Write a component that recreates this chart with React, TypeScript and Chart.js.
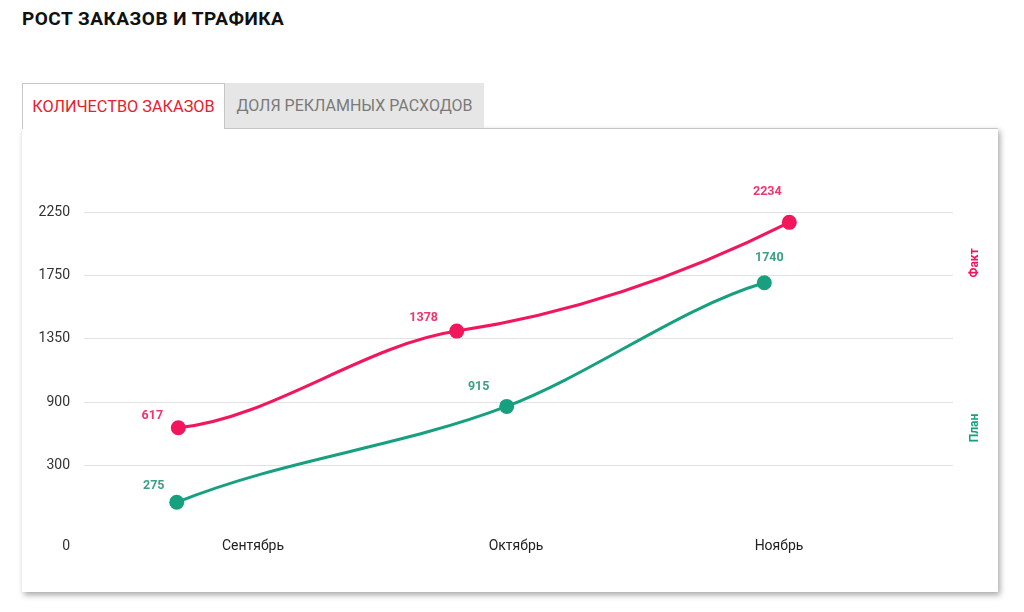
import React, { useEffect, useRef } from "react";
import { Chart, registerables } from "chart.js";

Chart.register(...registerables);

// ---- data ----
const months = ["Сентябрь", "Октябрь", "Ноябрь"];
const factValues = [617, 1378, 2234];
const planValues = [275, 915, 1740];
// horizontal position of each point, in month units (0 = Сентябрь)
const factMonthPos = [-0.284, 0.7745, 2.0392];
const planMonthPos = [-0.29, 0.9646, 1.9441];
// y axis tick labels and their slots on the (evenly gridded) visible axis
const yTickLabels = ["0", "300", "900", "1350", "1750", "2250"];
const yTickSlots = [0, 1.26, 2.26, 3.26, 4.26, 5.26];
const seriesNames = ["Факт", "План"];

// ---- style ----
const PINK = "#f2165d";
const GREEN = "#17a07f";
const PINK_LABEL = "#f0346c";
const GREEN_LABEL = "#3d9f85";
const FONT = "Roboto, 'Noto Sans', sans-serif";
const factLabelOffsets = [[-26, -12], [-33, -13], [-22, -30]];
const planLabelOffsets = [[-23, -16], [-28, -20], [5, -25]];
const sideLabelFractions = [0.262, 0.718];
// curve shape: tangent steepness at each point (screen dy/dx)
const factTangents = [-0.1, -0.15, -0.5];
const planTangents = [-0.4, -0.38, -0.3];

const tangentPlugin = {
  id: "curveTangents",
  beforeDatasetDraw(chart: any, args: any) {
    const ds: any = chart.data.datasets[args.index];
    const slopes = ds.tangentSlopes;
    if (!slopes) return;
    const meta = chart.getDatasetMeta(args.index);
    const line = meta.dataset;
    if (line && line.updateControlPoints) line.updateControlPoints(chart.chartArea, "x");
    const pts = meta.data;
    pts.forEach((p: any, i: number) => {
      const dPrev = i > 0 ? (p.x - pts[i - 1].x) / 3 : 0;
      const dNext = i < pts.length - 1 ? (pts[i + 1].x - p.x) / 3 : 0;
      p.cp1x = p.x - dPrev;
      p.cp1y = p.y - slopes[i] * dPrev;
      p.cp2x = p.x + dNext;
      p.cp2y = p.y + slopes[i] * dNext;
    });
  },
};

const valueLabelPlugin = {
  id: "valueLabels",
  afterDatasetsDraw(chart: any) {
    const ctx = chart.ctx;
    chart.data.datasets.forEach((ds: any, di: number) => {
      const meta = chart.getDatasetMeta(di);
      meta.data.forEach((el: any, i: number) => {
        const off = ds.labelOffsets[i];
        ctx.save();
        ctx.font = `bold 12.5px ${FONT}`;
        ctx.fillStyle = ds.labelColor;
        ctx.textAlign = "center";
        ctx.textBaseline = "middle";
        ctx.fillText(String(ds.data[i].y), el.x + off[0], el.y + off[1]);
        ctx.restore();
      });
    });
  },
};

const sideLabelPlugin = {
  id: "sideLabels",
  afterDraw(chart: any) {
    const { ctx, chartArea } = chart;
    const colors = [PINK, GREEN];
    seriesNames.forEach((name, i) => {
      const x = chartArea.right + 22;
      const y = chartArea.top + (chartArea.bottom - chartArea.top) * sideLabelFractions[i];
      ctx.save();
      ctx.translate(x, y);
      ctx.rotate(-Math.PI / 2);
      ctx.font = `bold 12px ${FONT}`;
      ctx.fillStyle = colors[i];
      ctx.textAlign = "center";
      ctx.textBaseline = "middle";
      ctx.fillText(name, 0, 0);
      ctx.restore();
    });
  },
};

function OrdersChart() {
  const ref = useRef<HTMLCanvasElement | null>(null);
  useEffect(() => {
    if (!ref.current) return;
    const chart = new Chart(ref.current, {
      type: "line",
      data: {
        datasets: [
          {
            label: seriesNames[0],
            data: factValues.map((v, i) => ({ x: factMonthPos[i], y: v })),
            borderColor: PINK,
            backgroundColor: PINK,
            pointBackgroundColor: PINK,
            pointBorderWidth: 0,
            pointRadius: 7.5,
            borderWidth: 3,
            tension: 0.4,
            yAxisID: "yF",
            clip: false,
            labelOffsets: factLabelOffsets,
            labelColor: PINK_LABEL,
            tangentSlopes: factTangents,
          } as any,
          {
            label: seriesNames[1],
            data: planValues.map((v, i) => ({ x: planMonthPos[i], y: v })),
            borderColor: GREEN,
            backgroundColor: GREEN,
            pointBackgroundColor: GREEN,
            pointBorderWidth: 0,
            pointRadius: 7.5,
            borderWidth: 3,
            tension: 0.4,
            yAxisID: "yP",
            clip: false,
            labelOffsets: planLabelOffsets,
            labelColor: GREEN_LABEL,
            tangentSlopes: planTangents,
          } as any,
        ],
      },
      options: {
        responsive: false,
        animation: false,
        layout: { padding: { top: 40, right: 45, bottom: 32, left: 0 } },
        plugins: { legend: { display: false }, tooltip: { enabled: false } },
        scales: {
          x: {
            type: "linear",
            min: -0.6426,
            max: 2.6616,
            afterBuildTicks: (scale: any) => {
              scale.ticks = months.map((_, i) => ({ value: i }));
            },
            afterFit: (scale: any) => {
              scale.height = 30;
            },
            ticks: {
              padding: 7.6,
              color: "#222",
              font: { family: FONT, size: 14 },
              callback: (value: any) => months[Math.round(Number(value))],
            },
            grid: { display: false, drawTicks: false },
            border: { display: false },
          },
          y: {
            type: "linear",
            position: "left",
            min: 0.252,
            max: 5.953,
            afterBuildTicks: (scale: any) => {
              scale.ticks = yTickSlots.map((v) => ({ value: v }));
            },
            afterFit: (scale: any) => {
              scale.width = 62;
            },
            ticks: {
              padding: 14,
              color: "#333",
              font: { family: FONT, size: 14 },
              callback: (_v: any, index: number) => yTickLabels[index],
            },
            grid: {
              drawTicks: false,
              color: (c: any) => (c.index === 0 ? "rgba(0,0,0,0)" : "#e2e2e2"),
            },
            border: { display: false },
          },
          yF: { type: "linear", display: false, min: -188, max: 2662 },
          yP: { type: "linear", display: false, min: 90, max: 2506 },
        },
      } as any,
      plugins: [tangentPlugin, valueLabelPlugin, sideLabelPlugin],
    });
    return () => chart.destroy();
  }, []);
  return <canvas ref={ref} width={976} height={464} style={{ display: "block", width: 976, height: 464 }} />;
}

export default function App() {
  return (
    <div style={{ position: "absolute", left: 0, top: 0, width: 1024, height: 612, background: "#fff", fontFamily: FONT, overflow: "hidden" }}>
      <div style={{ position: "absolute", left: 22, top: 9, fontSize: 19, letterSpacing: 0.5, lineHeight: "20px", fontWeight: 700, color: "#111" }}>
        РОСТ ЗАКАЗОВ И ТРАФИКА
      </div>
      <div
        style={{
          position: "absolute", left: 22, top: 128, width: 976, height: 464, background: "#fff",
          borderTop: "1px solid #c6c6c6", boxSizing: "border-box",
          boxShadow: "2px 3px 6px rgba(0,0,0,0.35)",
        }}
      >
        <div style={{ position: "absolute", left: 0, top: -1 }}>
          <OrdersChart />
        </div>
      </div>
      <div
        style={{
          position: "absolute", left: 22, top: 83, width: 203, height: 46, boxSizing: "border-box",
          background: "#fff", borderTop: "1px solid #c6c6c6", borderLeft: "1px solid #c6c6c6", borderRight: "1px solid #c6c6c6",
          display: "flex", alignItems: "center", justifyContent: "center", paddingBottom: 1,
          color: "#e8202e", fontSize: 16.3, zIndex: 2,
        }}
      >
        КОЛИЧЕСТВО ЗАКАЗОВ
      </div>
      <div
        style={{
          position: "absolute", left: 225, top: 83, width: 259, height: 45, boxSizing: "border-box",
          background: "#e6e6e6", display: "flex", alignItems: "center", justifyContent: "center",
          color: "#7a7a7a", fontSize: 16, zIndex: 2,
        }}
      >
        ДОЛЯ РЕКЛАМНЫХ РАСХОДОВ
      </div>
    </div>
  );
}
